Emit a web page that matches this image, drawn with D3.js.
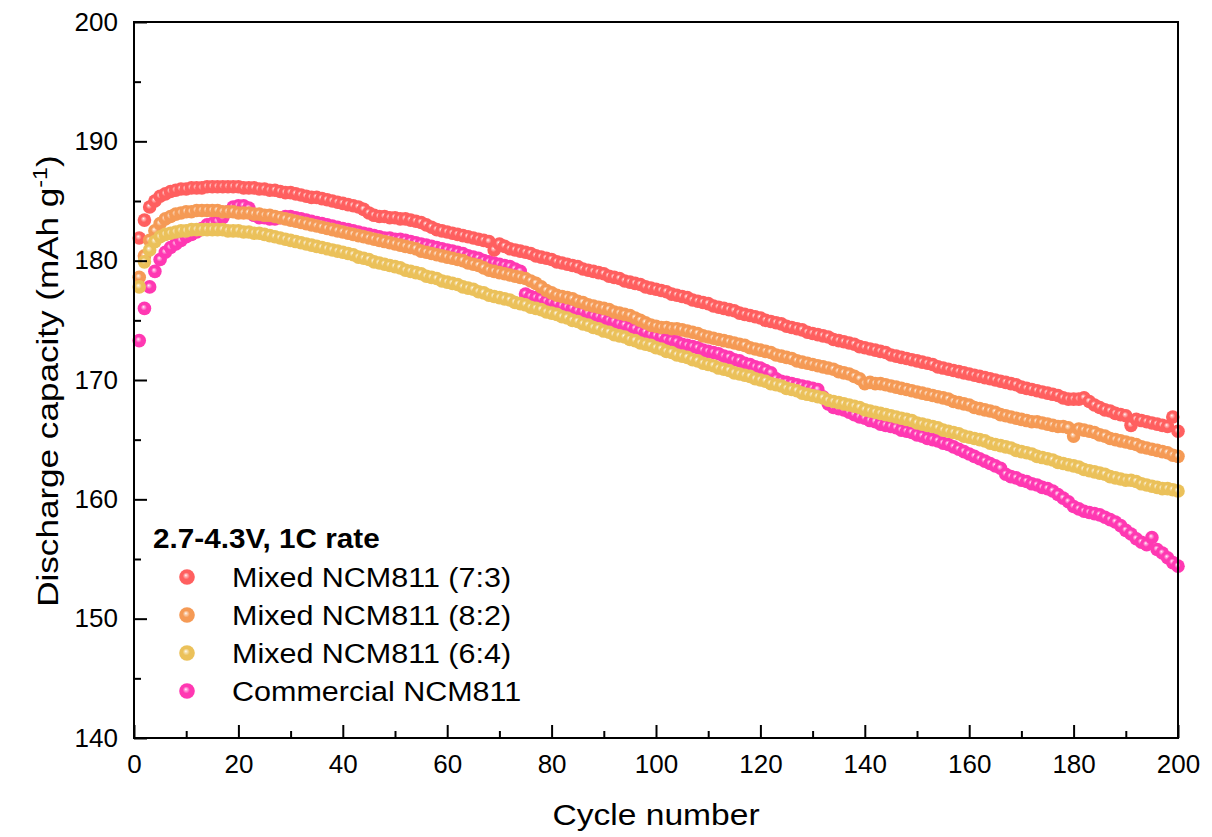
<!DOCTYPE html>
<html>
<head>
<meta charset="utf-8">
<script src="https://cdn.jsdelivr.net/npm/d3@7"></script>
<style>
  body { margin: 0; background: #fff; }
  text { font-family: Arial, "Liberation Sans", sans-serif; fill: #000; }
</style>
</head>
<body>
<div id="chart"></div>
<script>
// cycle numbers 1..200 (x values)
const cycles = d3.range(1, 201);

// Mixed NCM811 (7:3)
const mixed73 = [
  181.9,183.4,184.5,185.0,185.4,185.6,185.8,185.9,186.0,186.0,
  186.1,186.1,186.1,186.2,186.2,186.2,186.2,186.2,186.2,186.2,
  186.1,186.1,186.1,186.0,186.0,185.9,185.9,185.8,185.7,185.7,
  185.6,185.5,185.4,185.3,185.3,185.2,185.1,185.0,184.9,184.8,
  184.7,184.6,184.5,184.3,184.0,183.8,183.7,183.7,183.6,183.6,
  183.5,183.5,183.4,183.3,183.2,183.0,182.8,182.6,182.5,182.4,
  182.3,182.2,182.1,182.0,181.9,181.8,181.7,181.6,180.9,181.4,
  181.2,181.0,180.9,180.8,180.7,180.6,180.4,180.3,180.2,180.1,
  179.9,179.8,179.7,179.6,179.5,179.3,179.2,179.1,179.0,178.9,
  178.7,178.6,178.5,178.3,178.2,178.1,178.0,177.8,177.7,177.6,
  177.5,177.4,177.2,177.1,177.0,176.9,176.7,176.6,176.5,176.4,
  176.2,176.1,176.0,175.9,175.8,175.6,175.5,175.4,175.3,175.2,
  175.0,174.9,174.8,174.7,174.5,174.4,174.3,174.2,174.0,173.9,
  173.8,173.7,173.6,173.4,173.3,173.2,173.1,173.0,172.8,172.7,
  172.6,172.5,172.4,172.3,172.1,172.0,171.9,171.8,171.7,171.6,
  171.5,171.4,171.3,171.1,171.0,170.9,170.8,170.7,170.6,170.5,
  170.4,170.3,170.2,170.1,170.0,169.9,169.8,169.7,169.6,169.4,
  169.3,169.2,169.1,169.0,168.9,168.8,168.7,168.5,168.4,168.4,
  168.4,168.5,168.2,167.9,167.7,167.5,167.4,167.2,167.1,167.0,
  166.2,166.7,166.6,166.5,166.4,166.3,166.2,166.1,166.9,165.7
];

// Mixed NCM811 (8:2)
const mixed82 = [
  178.6,180.4,181.7,182.5,183.1,183.5,183.7,183.9,184.0,184.1,
  184.1,184.2,184.2,184.2,184.2,184.2,184.1,184.1,184.1,184.0,
  184.0,184.0,183.9,183.9,183.8,183.8,183.7,183.6,183.5,183.4,
  183.3,183.2,183.1,183.0,182.9,182.8,182.7,182.6,182.5,182.4,
  182.3,182.2,182.1,182.0,181.9,181.8,181.7,181.6,181.5,181.4,
  181.3,181.2,181.1,181.0,180.8,180.7,180.6,180.5,180.4,180.3,
  180.2,180.1,180.0,179.8,179.7,179.6,179.4,179.2,179.1,179.0,
  178.9,178.8,178.7,178.6,178.5,178.3,178.1,177.8,177.5,177.3,
  177.1,177.0,176.9,176.8,176.6,176.5,176.3,176.2,176.1,176.0,
  175.9,175.7,175.6,175.5,175.4,175.2,175.0,174.8,174.6,174.5,
  174.4,174.4,174.3,174.3,174.2,174.1,174.0,173.9,173.7,173.6,
  173.5,173.4,173.3,173.2,173.1,173.0,172.9,172.7,172.6,172.5,
  172.4,172.3,172.1,172.0,171.9,171.8,171.6,171.5,171.4,171.3,
  171.2,171.1,171.0,170.9,170.7,170.6,170.5,170.3,170.1,169.7,
  169.8,169.7,169.7,169.6,169.5,169.4,169.3,169.2,169.1,169.0,
  168.9,168.8,168.7,168.6,168.5,168.4,168.2,168.1,168.0,167.9,
  167.7,167.6,167.5,167.4,167.3,167.1,167.0,166.9,166.8,166.7,
  166.6,166.5,166.5,166.4,166.3,166.2,166.1,166.1,166.0,165.3,
  165.9,165.8,165.7,165.6,165.4,165.3,165.1,165.0,164.9,164.8,
  164.7,164.6,164.4,164.3,164.2,164.1,164.0,163.9,163.7,163.6
];

// Mixed NCM811 (6:4)
const mixed64 = [
  177.8,179.9,180.9,181.6,182.0,182.2,182.3,182.4,182.5,182.5,
  182.6,182.6,182.6,182.6,182.6,182.6,182.6,182.5,182.5,182.5,
  182.4,182.4,182.3,182.3,182.2,182.1,182.0,181.9,181.8,181.7,
  181.6,181.5,181.4,181.3,181.2,181.1,181.0,180.9,180.8,180.7,
  180.6,180.5,180.3,180.2,180.1,179.9,179.8,179.7,179.6,179.5,
  179.4,179.2,179.1,179.0,178.9,178.7,178.6,178.5,178.3,178.2,
  178.1,178.0,177.8,177.7,177.6,177.4,177.3,177.1,177.0,176.9,
  176.8,176.7,176.5,176.4,176.3,176.1,176.0,175.9,175.7,175.6,
  175.5,175.3,175.2,175.0,174.9,174.7,174.6,174.4,174.3,174.1,
  174.0,173.8,173.7,173.6,173.4,173.3,173.1,173.0,172.9,172.7,
  172.6,172.4,172.3,172.1,172.0,171.9,171.7,171.6,171.4,171.3,
  171.2,171.0,170.9,170.8,170.6,170.5,170.4,170.3,170.1,170.0,
  169.9,169.7,169.6,169.5,169.3,169.2,169.1,168.9,168.8,168.7,
  168.6,168.5,168.3,168.2,168.1,168.0,167.9,167.8,167.7,167.5,
  167.4,167.3,167.2,167.1,167.0,166.9,166.8,166.7,166.6,166.4,
  166.3,166.2,166.1,166.0,165.8,165.7,165.6,165.5,165.3,165.2,
  165.1,165.0,164.9,164.7,164.6,164.5,164.4,164.3,164.1,164.0,
  163.9,163.8,163.6,163.5,163.4,163.3,163.1,163.0,162.9,162.8,
  162.7,162.5,162.4,162.3,162.2,162.1,161.9,161.8,161.7,161.6,
  161.6,161.5,161.3,161.2,161.1,161.0,160.9,160.9,160.8,160.7
];

// Commercial NCM811
const commercial = [
  173.3,176.0,177.8,179.1,180.1,180.7,181.1,181.4,181.7,182.0,
  182.2,182.4,182.7,183.0,183.1,183.3,183.6,184.1,184.5,184.6,
  184.6,184.4,183.8,183.6,183.6,183.5,183.5,183.6,183.7,183.7,
  183.6,183.5,183.4,183.3,183.2,183.1,183.0,182.9,182.8,182.7,
  182.6,182.5,182.4,182.3,182.2,182.1,182.0,181.9,181.9,181.8,
  181.8,181.7,181.6,181.5,181.4,181.3,181.2,181.1,181.0,180.9,
  180.8,180.7,180.6,180.4,180.3,180.2,180.0,179.9,179.8,179.7,
  179.6,179.5,179.3,179.1,177.2,177.0,176.9,176.8,176.6,176.5,
  176.4,176.2,176.1,176.0,175.8,175.7,175.6,175.4,175.3,175.2,
  175.0,174.9,174.7,174.6,174.4,174.3,174.1,174.0,173.8,173.7,
  173.6,173.4,173.3,173.2,173.0,172.9,172.8,172.7,172.5,172.4,
  172.3,172.2,172.0,171.9,171.7,171.6,171.4,171.3,171.1,171.0,
  170.8,170.6,170.1,169.9,169.8,169.7,169.6,169.5,169.4,169.3,
  169.2,168.6,168.0,167.7,167.6,167.5,167.3,167.1,166.9,166.8,
  166.6,166.5,166.3,166.2,166.1,166.0,165.8,165.7,165.6,165.4,
  165.3,165.1,165.0,164.9,164.7,164.6,164.4,164.2,164.0,163.8,
  163.6,163.4,163.2,163.0,162.8,162.6,162.1,161.9,161.8,161.6,
  161.5,161.3,161.2,161.0,160.9,160.7,160.4,160.1,159.8,159.4,
  159.2,159.0,158.9,158.8,158.7,158.5,158.3,158.1,157.8,157.4,
  157.1,156.7,156.4,156.2,156.8,155.8,155.5,155.1,154.7,154.4
];

const seriesNames = ["Mixed NCM811 (7:3)", "Mixed NCM811 (8:2)", "Mixed NCM811 (6:4)", "Commercial NCM811"];
const seriesColors = ["#ff5f5f", "#f59a55", "#ebc15a", "#ff38b2"];
const xTicks = [0, 20, 40, 60, 80, 100, 120, 140, 160, 180, 200];
const yTicks = [140, 150, 160, 170, 180, 190, 200];
const legendTitle = "2.7-4.3V, 1C rate";

const series = [mixed73, mixed82, mixed64, commercial].map((vals, i) => ({
  name: seriesNames[i],
  color: seriesColors[i],
  points: vals.map((v, j) => ({ cycle: cycles[j], cap: v }))
}));

const W = 1212, H = 837;
const margin = { top: 22, right: 34, bottom: 99, left: 134 };
const width = W - margin.left - margin.right;
const height = H - margin.top - margin.bottom;

const svg = d3.select("#chart").append("svg")
    .attr("width", W)
    .attr("height", H);

// ball-like marker gradients
const defs = svg.append("defs");
series.forEach((s, i) => {
  const g = defs.append("radialGradient")
      .attr("id", "ball" + i)
      .attr("cx", "50%").attr("cy", "50%").attr("r", "50%")
      .attr("fx", "42%").attr("fy", "38%");
  g.append("stop").attr("offset", "0%").attr("stop-color", "#ffffff");
  g.append("stop").attr("offset", "14%").attr("stop-color", d3.interpolateRgb(s.color, "#ffffff")(0.6));
  g.append("stop").attr("offset", "45%").attr("stop-color", s.color);
  g.append("stop").attr("offset", "100%").attr("stop-color", s.color);
});

const g = svg.append("g")
    .attr("transform", `translate(${margin.left},${margin.top})`);

const x = d3.scaleLinear().domain([0, 200]).range([0, width]);
const y = d3.scaleLinear().domain([140, 200]).range([height, 0]);

// points: draw commercial first so the mixed series sit on top
const drawOrder = [3, 0, 1, 2];
drawOrder.forEach(i => {
  const s = series[i];
  g.append("g").selectAll("circle")
      .data(s.points)
    .enter().append("circle")
      .attr("cx", d => x(d.cycle))
      .attr("cy", d => y(d.cap))
      .attr("r", 6.8)
      .attr("fill", `url(#ball${i})`);
});

// axes with inward ticks
const xAxis = g.append("g")
    .attr("transform", `translate(0,${height})`)
    .call(d3.axisBottom(x).tickValues(xTicks).tickSizeInner(-13).tickSizeOuter(0).tickPadding(17));
const xMinor = g.append("g")
    .attr("transform", `translate(0,${height})`)
    .call(d3.axisBottom(x).tickValues(xTicks.slice(0, -1).map(t => t + 10)).tickSize(-7).tickFormat(""));
const yAxis = g.append("g")
    .call(d3.axisLeft(y).tickValues(yTicks).tickSizeInner(-13).tickSizeOuter(0).tickPadding(16));
const yMinor = g.append("g")
    .call(d3.axisLeft(y).tickValues(yTicks.slice(0, -1).map(t => t + 5)).tickSize(-7).tickFormat(""));

[xAxis, xMinor, yAxis, yMinor].forEach(a => {
  a.select(".domain").remove();
  a.selectAll(".tick line").attr("stroke", "#000").attr("stroke-width", 2);
  a.selectAll(".tick text").style("font-size", "26px").attr("fill", "#000");
});

// frame
g.append("rect")
    .attr("width", width)
    .attr("height", height)
    .attr("fill", "none")
    .attr("stroke", "#000")
    .attr("stroke-width", 2);

// axis titles (the original font runs a bit wider than Arial, hence the x-scale)
svg.append("text")
    .attr("transform", `translate(${margin.left + width / 2},825) scale(1.12,1)`)
    .attr("text-anchor", "middle")
    .style("font-size", "30px")
    .text("Cycle number");

const yl = svg.append("text")
    .attr("transform", `translate(58,${margin.top + height / 2 + 1}) rotate(-90) scale(1.17,1)`)
    .attr("text-anchor", "middle")
    .style("font-size", "30px");
yl.append("tspan").text("Discharge capacity (mAh g");
yl.append("tspan").attr("dy", -11).style("font-size", "20px").text("-1");
yl.append("tspan").attr("dy", 11).text(")");

// legend
const legend = svg.append("g");
legend.append("text")
    .attr("transform", "translate(153,548) scale(1.1,1)")
    .style("font-size", "27px")
    .style("font-weight", "bold")
    .text(legendTitle);

series.forEach((s, i) => {
  const cy = 577 + i * 38;
  legend.append("circle")
      .attr("cx", 187)
      .attr("cy", cy)
      .attr("r", 7.8)
      .attr("fill", `url(#ball${i})`);
  legend.append("text")
      .attr("transform", `translate(232,${cy + 10}) scale(1.09,1)`)
      .style("font-size", "28px")
      .text(s.name);
});
</script>
</body>
</html>
